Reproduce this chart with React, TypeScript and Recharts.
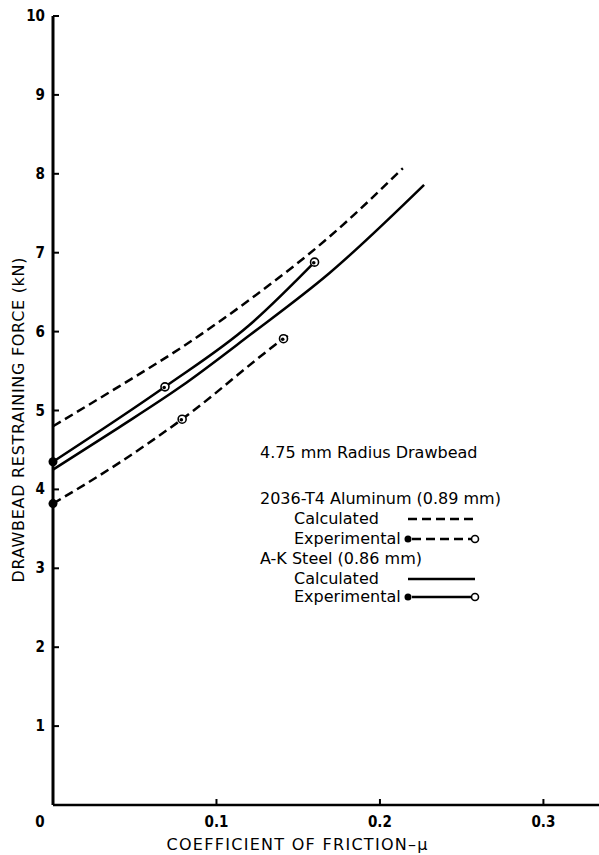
import React from 'react';
import { LineChart, XAxis, YAxis, Line } from 'recharts';

// friction coefficient (x) and restraining force in kN (y)
const alCalcMu = [0, 0.04, 0.078, 0.12, 0.169, 0.214];
const alCalcForce = [4.8, 5.3, 5.79, 6.4, 7.2, 8.07];

const alExpMu = [0, 0.04, 0.079, 0.141, 0.145];
const alExpForce = [3.82, 4.33, 4.89, 5.91, 5.97];

const steelCalcMu = [0, 0.04, 0.078, 0.12, 0.169, 0.227];
const steelCalcForce = [4.25, 4.78, 5.3, 5.95, 6.74, 7.86];

const steelExpMu = [0, 0.0685, 0.12, 0.16];
const steelExpForce = [4.35, 5.3, 6.08, 6.88];

// which points of the experimental series carry a marker
const alExpMarked = [0, 2, 3];
const steelExpMarked = [0, 1, 3];

const xTicks = [0, 0.1, 0.2, 0.3];
const yTicks = [1, 2, 3, 4, 5, 6, 7, 8, 9, 10];

const legendTitle = '4.75 mm Radius Drawbead';
const alLabel = '2036-T4 Aluminum (0.89 mm)';
const steelLabel = 'A-K Steel (0.86 mm)';

const toRows = (xs: number[], ys: number[]) => xs.map((x, i) => ({ mu: x, force: ys[i] }));

const FONT = 'DejaVu Sans, Liberation Sans, sans-serif';
const TICK_FONT = 'DejaVu Sans Condensed, Liberation Sans Narrow, sans-serif';

const W = 599;
const H = 855;

const markerDot = (marked: number[]) => (props: any) => {
  const { cx, cy, index } = props;
  if (!marked.includes(index)) return <g key={`d${index}`} />;
  if (index === 0) {
    return <circle key={`d${index}`} cx={cx} cy={cy} r={4.5} fill="#000" />;
  }
  return (
    <g key={`d${index}`}>
      <circle cx={cx} cy={cy} r={4} fill="#fff" stroke="#000" strokeWidth={1.6} />
      <circle cx={cx - 0.8} cy={cy + 0.6} r={1.8} fill="#000" />
    </g>
  );
};

const YTick = (props: any) => {
  const { x, y, payload } = props;
  return (
    <g>
      <line x1={x} y1={y} x2={x + 6} y2={y} stroke="#000" strokeWidth={2} />
      <text x={x - 8} y={y + 5} textAnchor="end" fontFamily={TICK_FONT} fontWeight="bold" fontSize={15} fill="#000">
        {payload.value}
      </text>
    </g>
  );
};

const XTick = (props: any) => {
  const { x, y, payload } = props;
  const v = payload.value;
  if (v === 0) {
    return (
      <text x={x - 13} y={y + 22} textAnchor="middle" fontFamily={TICK_FONT} fontWeight="bold" fontSize={15} fill="#000">
        0
      </text>
    );
  }
  return (
    <g>
      <line x1={x} y1={y} x2={x} y2={y - 6} stroke="#000" strokeWidth={2} />
      <text x={x} y={y + 22} textAnchor="middle" fontFamily={TICK_FONT} fontWeight="bold" fontSize={15} fill="#000">
        {v.toFixed(1)}
      </text>
    </g>
  );
};

const Overlay: React.FC = () => {
  const t = { fontFamily: FONT, fontSize: 16, fill: '#000' };
  const lx1 = 408;
  const lx2 = 475;
  return (
    <svg width={W} height={H} style={{ position: 'absolute', left: 0, top: 0, pointerEvents: 'none' }}>
      <text {...t} x={297} y={850} textAnchor="middle" textLength={261} lengthAdjust="spacing">
        COEFFICIENT OF FRICTION–μ
      </text>
      <text
        {...t}
        x={0}
        y={0}
        textAnchor="middle"
        textLength={325}
        lengthAdjust="spacing"
        transform="translate(24 420) rotate(-90)"
      >
        DRAWBEAD RESTRAINING FORCE (kN)
      </text>

      <text {...t} x={260} y={458}>{legendTitle}</text>
      <text {...t} x={260} y={504}>{alLabel}</text>
      <text {...t} x={294} y={524}>Calculated</text>
      <text {...t} x={294} y={544}>Experimental</text>
      <text {...t} x={260} y={564}>{steelLabel}</text>
      <text {...t} x={294} y={584}>Calculated</text>
      <text {...t} x={294} y={602}>Experimental</text>

      <line x1={lx1} y1={519} x2={lx2} y2={519} stroke="#000" strokeWidth={2.5} strokeDasharray="9 5" />
      <line x1={lx1 + 4} y1={539} x2={lx2 - 4} y2={539} stroke="#000" strokeWidth={2.5} strokeDasharray="9 5" />
      <circle cx={lx1} cy={539} r={3.5} fill="#000" />
      <circle cx={lx2} cy={539} r={3.5} fill="#fff" stroke="#000" strokeWidth={1.6} />
      <line x1={lx1} y1={579} x2={lx2} y2={579} stroke="#000" strokeWidth={2.5} />
      <line x1={lx1 + 4} y1={597} x2={lx2 - 4} y2={597} stroke="#000" strokeWidth={2.5} />
      <circle cx={lx1} cy={597} r={3.5} fill="#000" />
      <circle cx={lx2} cy={597} r={3.5} fill="#fff" stroke="#000" strokeWidth={1.6} />
    </svg>
  );
};

export default function App() {
  return (
    <div style={{ position: 'absolute', left: 0, top: 0, width: W, height: H, background: '#fff' }}>
      <LineChart width={W} height={H} margin={{ top: 16, right: 0, bottom: 0, left: 0 }}>
        <XAxis
          type="number"
          dataKey="mu"
          domain={[0, 0.334]}
          ticks={xTicks}
          tick={<XTick />}
          tickLine={false}
          tickSize={0}
          tickMargin={0}
          height={50}
          axisLine={{ stroke: '#000', strokeWidth: 2.5 }}
        />
        <YAxis
          type="number"
          dataKey="force"
          domain={[0, 10]}
          ticks={yTicks}
          tick={<YTick />}
          tickLine={false}
          tickSize={0}
          tickMargin={0}
          width={53}
          axisLine={{ stroke: '#000', strokeWidth: 3 }}
        />
        <Line
          data={toRows(alCalcMu, alCalcForce)}
          dataKey="force"
          type="monotone"
          stroke="#000"
          strokeWidth={2.5}
          strokeDasharray="9 5"
          dot={false}
          isAnimationActive={false}
        />
        <Line
          data={toRows(alExpMu, alExpForce)}
          dataKey="force"
          type="monotone"
          stroke="#000"
          strokeWidth={2.5}
          strokeDasharray="9 5"
          dot={markerDot(alExpMarked)}
          activeDot={false}
          isAnimationActive={false}
        />
        <Line
          data={toRows(steelCalcMu, steelCalcForce)}
          dataKey="force"
          type="monotone"
          stroke="#000"
          strokeWidth={2.5}
          dot={false}
          isAnimationActive={false}
        />
        <Line
          data={toRows(steelExpMu, steelExpForce)}
          dataKey="force"
          type="monotone"
          stroke="#000"
          strokeWidth={2.5}
          dot={markerDot(steelExpMarked)}
          activeDot={false}
          isAnimationActive={false}
        />
      </LineChart>
      <Overlay />
    </div>
  );
}
